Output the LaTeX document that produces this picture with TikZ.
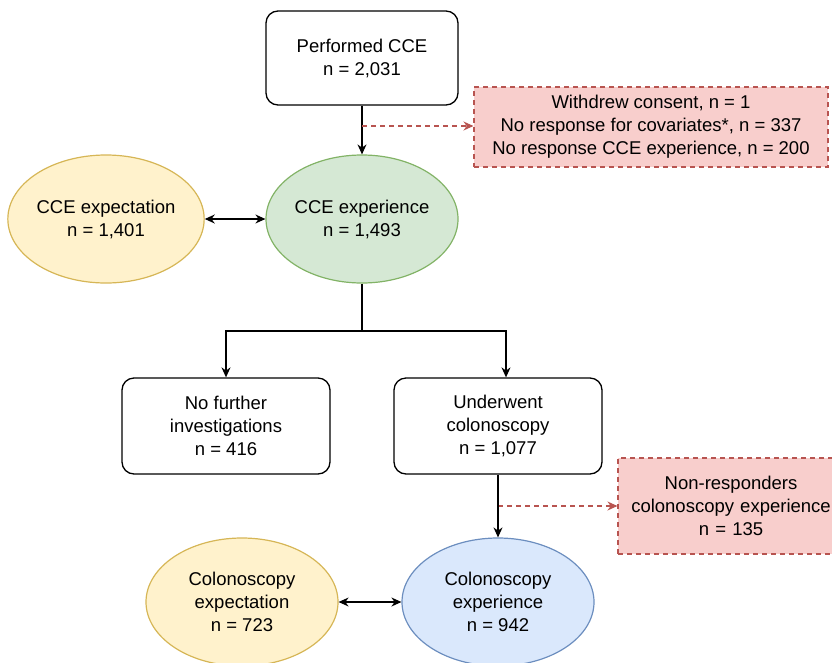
\documentclass[tikz,border=0pt]{standalone}
\usepackage{fontspec}
\setmainfont{Liberation Sans}
\usetikzlibrary{arrows.meta,shapes.geometric}
\definecolor{yelfill}{HTML}{FFF2CC}
\definecolor{yeldraw}{HTML}{D6B656}
\definecolor{grnfill}{HTML}{D5E8D4}
\definecolor{grndraw}{HTML}{82B366}
\definecolor{blufill}{HTML}{DAE8FC}
\definecolor{bludraw}{HTML}{6C8EBF}
\definecolor{redfill}{HTML}{F8CECC}
\definecolor{reddraw}{HTML}{B85450}
\tikzset{
    flowtext/.style={font=\fontsize{18.5}{23}\selectfont, align=center, inner sep=0pt},
    stepbox/.style={flowtext, draw=black, line width=1.3pt, rounded corners=12pt, fill=white},
    stage/.style={flowtext, ellipse, line width=1.2pt, minimum width=192pt, minimum height=128pt},
    dropbox/.style={flowtext, draw=reddraw, fill=redfill, dash pattern=on 5pt off 4pt, line width=1.1pt},
    arr/.style={line width=1.3pt, -{Stealth[length=10pt,width=9pt]}},
    biarr/.style={line width=1.3pt, {Stealth[length=10pt,width=9pt]}-{Stealth[length=10pt,width=9pt]}},
    droparr/.style={draw=reddraw, dash pattern=on 5pt off 4pt, line width=1.1pt, -{Stealth[length=10pt,width=9pt]}},
}
\begin{document}
\begin{tikzpicture}[x=1pt, y=-1pt]
    \useasboundingbox (0,0) rectangle (832,662);
    \clip (0,0) rectangle (832,662);

    \node[stepbox, minimum width=192pt, minimum height=94pt] (perf) at (362, 58) {Performed CCE\\n = 2,031};
    \node[dropbox, minimum width=354pt, minimum height=80pt] (drop1) at (651, 127) {Withdrew consent, n = 1\\No response for covariates*, n = 337\\No response CCE experience, n = 200};

    \node[stage, draw=yeldraw, fill=yelfill] (cceexpect) at (106, 219) {CCE expectation\\n = 1,401};
    \node[stage, draw=grndraw, fill=grnfill] (cceexp) at (362, 219) {CCE experience\\n = 1,493};

    \node[stepbox, minimum width=208pt, minimum height=96pt] (nofurther) at (226, 426) {No further\\investigations\\n = 416};
    \node[stepbox, minimum width=208pt, minimum height=96pt] (colon) at (498, 426) {Underwent\\colonoscopy\\n = 1,077};
    \node[dropbox, minimum width=226pt, minimum height=96pt, text width=214pt] (drop2) at (731, 506) {Non-responders\\colonoscopy experience\\n = 135};

    \node[stage, draw=yeldraw, fill=yelfill] (colexpect) at (242, 602) {Colonoscopy\\expectation\\n = 723};
    \node[stage, draw=bludraw, fill=blufill] (colexp) at (498, 602) {Colonoscopy\\experience\\n = 942};

    \coordinate (d1) at (362, 126);
    \coordinate (d2) at (498, 506);
    \coordinate (split) at (362, 331);

    % main flow
    \draw[arr] (perf) -- (cceexp);
    \draw[droparr] (d1) -- (drop1.west |- d1);
    \draw[biarr] (cceexpect) -- (cceexp);
    \draw[line width=1.3pt] (cceexp.south) -- (split);
    \draw[arr] (split) -| (nofurther.north);
    \draw[arr] (split) -| ([xshift=8pt]colon.north);
    \draw[droparr] (d2) -- (drop2.west |- d2);
    \draw[arr] (colon) -- (colexp);
    \draw[biarr] (colexpect) -- (colexp);
\end{tikzpicture}
\end{document}
